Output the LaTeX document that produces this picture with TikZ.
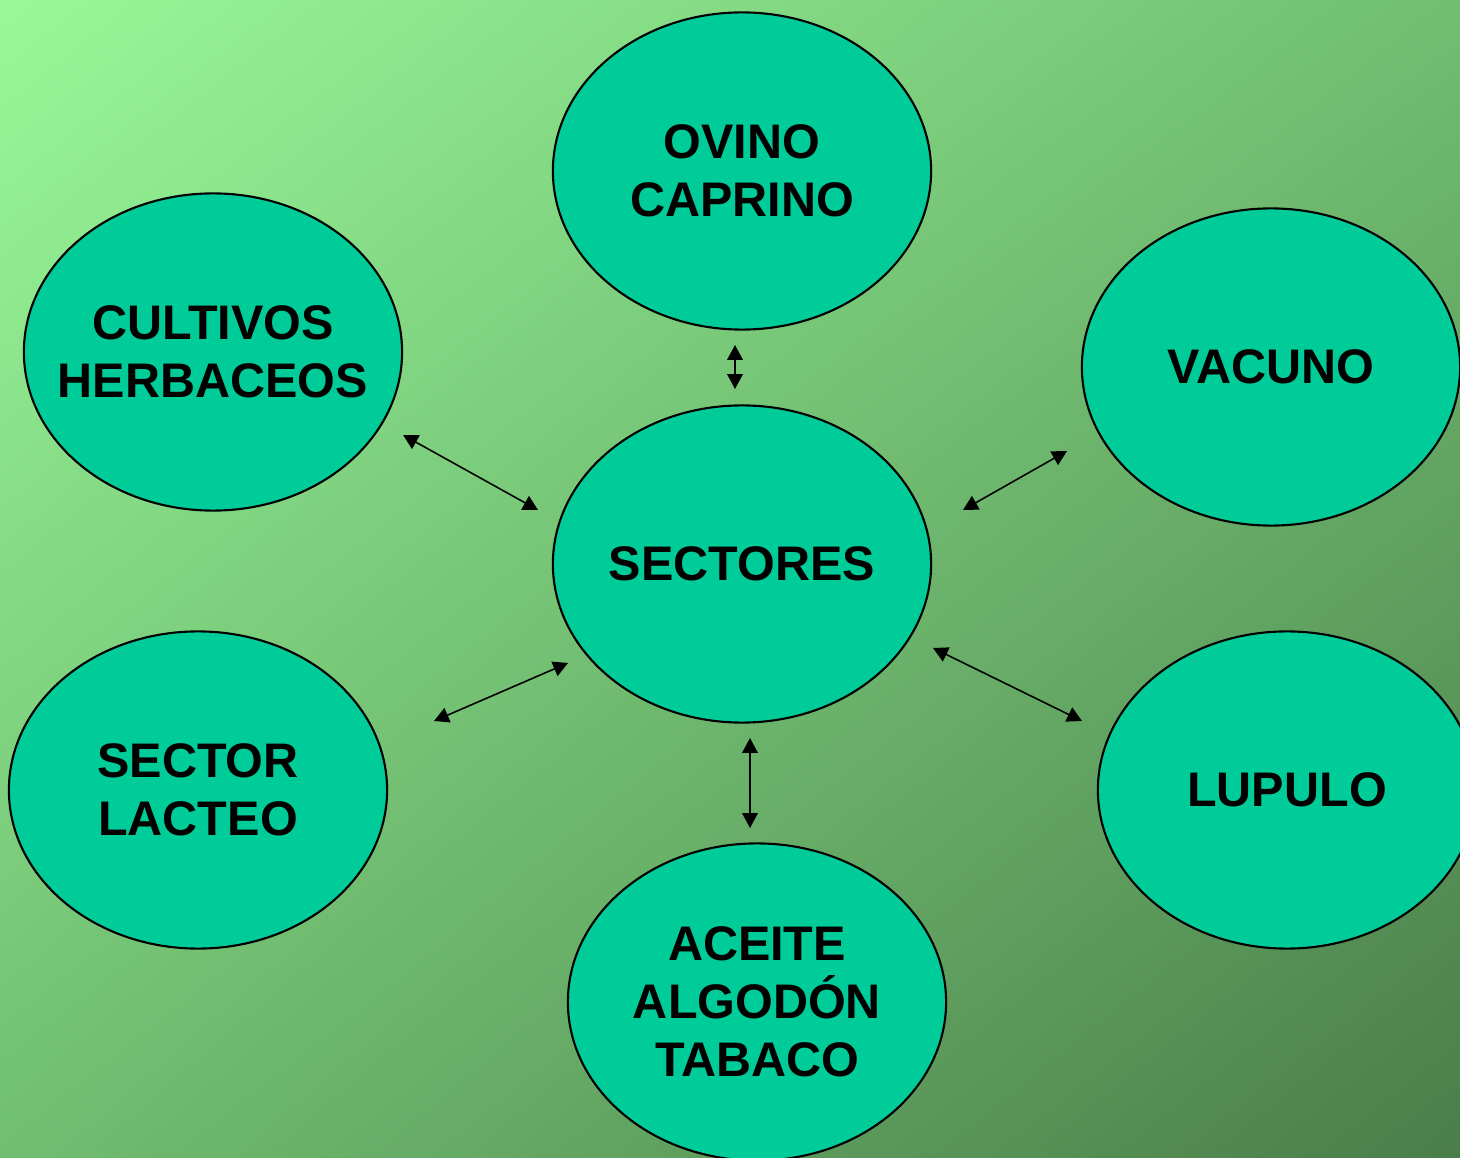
\documentclass[tikz,border=0pt]{standalone}
\usepackage{fontspec}
\setmainfont{Liberation Sans}
\usetikzlibrary{shapes.geometric,arrows.meta,shadings}
\definecolor{bgtl}{RGB}{153,248,153}
\definecolor{bgmid}{RGB}{113,190,113}
\definecolor{bgbr}{RGB}{74,125,74}
\definecolor{nodefill}{RGB}{0,204,153}
\begin{document}
\begin{tikzpicture}[x=0.01cm,y=-0.01cm,
  sector/.style={ellipse, draw=black, line width=0.6pt, fill=nodefill,
    minimum width=3.78cm, minimum height=3.17cm, inner xsep=-0.5cm, inner ysep=0pt,
    align=center, font=\fontsize{13.8pt}{16.5pt}\selectfont\bfseries},
  link/.style={line width=0.45pt, {Triangle[length=4.2pt,width=4.4pt]}-{Triangle[length=4.2pt,width=4.4pt]}}]
\useasboundingbox (0,0) rectangle (1460,1158);
\clip (0,0) rectangle (1460,1158);
\shade[upper left=bgtl, lower right=bgbr, upper right=bgmid, lower left=bgmid] (0,0) rectangle (1460,1158);
\node[sector] (ovino) at (742,171) {OVINO\\CAPRINO};
\node[sector] (cult) at (213,352) {CULTIVOS\\HERBACEOS};
\node[sector] (vac) at (1271,367) {VACUNO};
\node[sector] (sect) at (742,564) {SECTORES};
\node[sector] (lact) at (198,790) {SECTOR\\LACTEO};
\node[sector] (lup) at (1287,790) {LUPULO};
\node[sector] (acei) at (757,1002) {ACEITE\\ALGODÓN\\TABACO};
\coordinate (a1) at (735,345); \coordinate (b1) at (735,389);
\coordinate (a2) at (403,435); \coordinate (b2) at (538,510);
\coordinate (a3) at (1067,451); \coordinate (b3) at (963,510);
\coordinate (a4) at (434,721); \coordinate (b4) at (568,663);
\coordinate (a5) at (933,648); \coordinate (b5) at (1082,721);
\coordinate (a6) at (750,738); \coordinate (b6) at (750,828);
\draw[link] (a1) -- (b1);
\draw[link] (a2) -- (b2);
\draw[link] (a3) -- (b3);
\draw[link] (a4) -- (b4);
\draw[link] (a5) -- (b5);
\draw[link] (a6) -- (b6);
\end{tikzpicture}
\end{document}
